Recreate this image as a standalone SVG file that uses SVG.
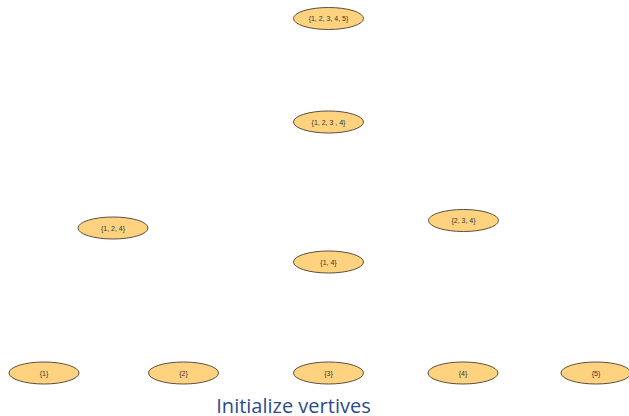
<svg xmlns="http://www.w3.org/2000/svg" width="629" height="416" viewBox="0 0 629 416">
  <style>
    .node ellipse { fill: #FFD27F; stroke: #5a5040; stroke-width: 1; }
    .node text { font-family: "Liberation Sans", Arial, sans-serif; font-size: 7px; fill: #333; text-anchor: middle; dominant-baseline: central; }
    .title { font-family: "Open Sans", "Liberation Sans", sans-serif; font-size: 20px; fill: #2B4C8C; text-anchor: middle; }
  </style>
  <rect width="629" height="416" fill="#fff"/>
  <g id="connectors"></g>
  <g id="n12345" class="node"><ellipse cx="328.5" cy="18.5" rx="35" ry="11"/><text x="328.5" y="18.5">{1, 2, 3, 4, 5}</text></g>
  <g id="n1234" class="node"><ellipse cx="328.5" cy="122" rx="35" ry="11"/><text x="328.5" y="122">{1, 2, 3 , 4}</text></g>
  <g id="n124" class="node"><ellipse cx="113" cy="228" rx="35" ry="11"/><text x="113" y="228">{1, 2, 4}</text></g>
  <g id="n234" class="node"><ellipse cx="463.5" cy="220.5" rx="35" ry="11"/><text x="463.5" y="220.5">{2, 3, 4}</text></g>
  <g id="n14" class="node"><ellipse cx="328.5" cy="262" rx="35" ry="11"/><text x="328.5" y="262">{1, 4}</text></g>
  <g id="n1" class="node"><ellipse cx="44" cy="373" rx="35" ry="11"/><text x="44" y="373">{1}</text></g>
  <g id="n2" class="node"><ellipse cx="183.5" cy="373" rx="35" ry="11"/><text x="183.5" y="373">{2}</text></g>
  <g id="n3" class="node"><ellipse cx="328.5" cy="373" rx="35" ry="11"/><text x="328.5" y="373">{3}</text></g>
  <g id="n4" class="node"><ellipse cx="463" cy="373" rx="35" ry="11"/><text x="463" y="373">{4}</text></g>
  <g id="n5" class="node"><ellipse cx="596" cy="373" rx="35" ry="11"/><text x="596" y="373">{5}</text></g>
  <text class="title" x="293.5" y="412.5">Initialize vertives</text>
</svg>
